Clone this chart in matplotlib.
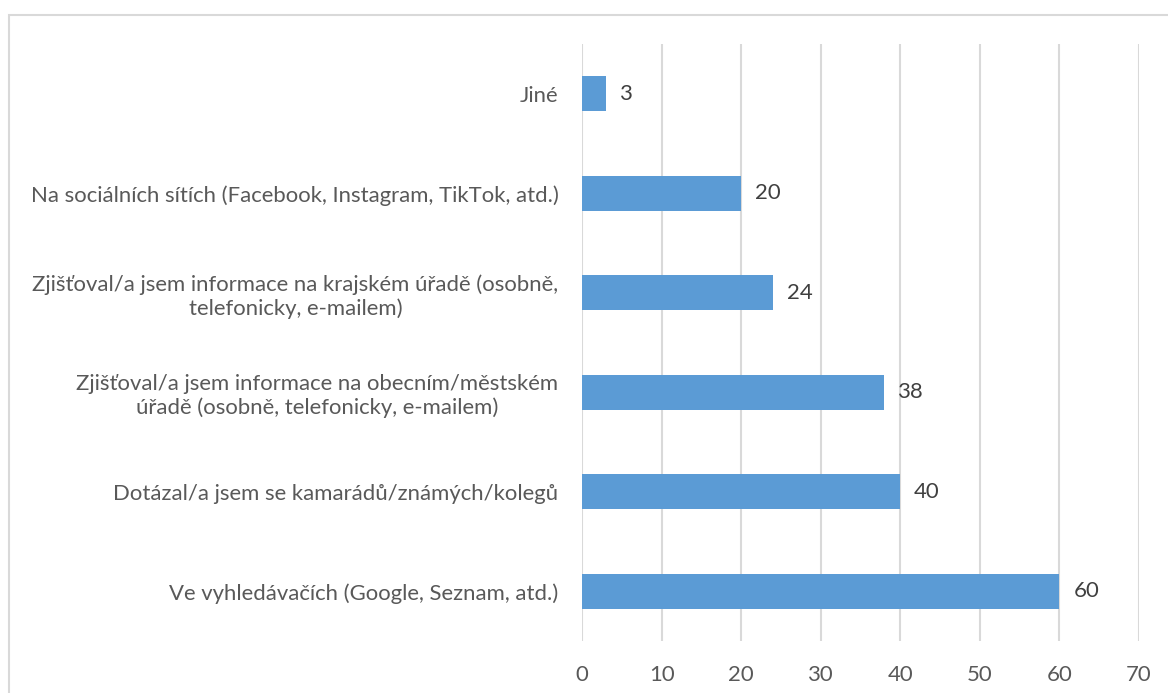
import matplotlib.pyplot as plt
from matplotlib.patches import Rectangle

categories = [
    "Ve vyhledávačích (Google, Seznam, atd.)",
    "Dotázal/a jsem se kamarádů/známých/kolegů",
    "Zjišťoval/a jsem informace na obecním/městském\núřadě (osobně, telefonicky, e-mailem)",
    "Zjišťoval/a jsem informace na krajském úřadě (osobně,\ntelefonicky, e-mailem)",
    "Na sociálních sítích (Facebook, Instagram, TikTok, atd.)",
    "Jiné",
]
values = [60, 40, 38, 24, 20, 3]
x_ticks = [0, 10, 20, 30, 40, 50, 60, 70]

W, H = 1168, 693
fig = plt.figure(figsize=(W / 100, H / 100), dpi=100)
plt.rcParams["font.family"] = ["Lato", "DejaVu Sans"]
FS = 15.9

# outer chart frame (only top and left edges fall inside the image)
fig.patches.append(Rectangle((8.5 / W, -0.1), 1.2, 1.1 - 15 / H,
                             transform=fig.transFigure, fill=False,
                             edgecolor="#d9d9d9", linewidth=1.5, zorder=0))

ax = fig.add_axes([582 / W, 1 - 641 / H, (1139 - 582) / W, (641 - 44) / H])
pos = list(range(len(categories)))
ax.barh(pos, values, height=0.35, color="#5b9bd5", zorder=3)
ax.set_xlim(0, 70)
ax.set_ylim(-0.5, len(categories) - 0.5)
ax.set_xticks(x_ticks)
ax.set_xticklabels([str(t) for t in x_ticks])
ax.set_yticks(pos)
ax.set_yticklabels(categories, multialignment="center")
ax.tick_params(axis="both", length=0, labelsize=FS, labelcolor="#595959")
ax.tick_params(axis="y", pad=17)
ax.tick_params(axis="x", pad=17)
ax.grid(axis="x", color="#d9d9d9", linewidth=1.5, zorder=0)
for s in ax.spines.values():
    s.set_visible(False)

for p, v in zip(pos, values):
    ax.annotate(str(v), (v, p), xytext=(10, 0), textcoords="offset points",
                ha="left", va="center", fontsize=FS, color="#404040")

fig.savefig("out.png", dpi=100)
